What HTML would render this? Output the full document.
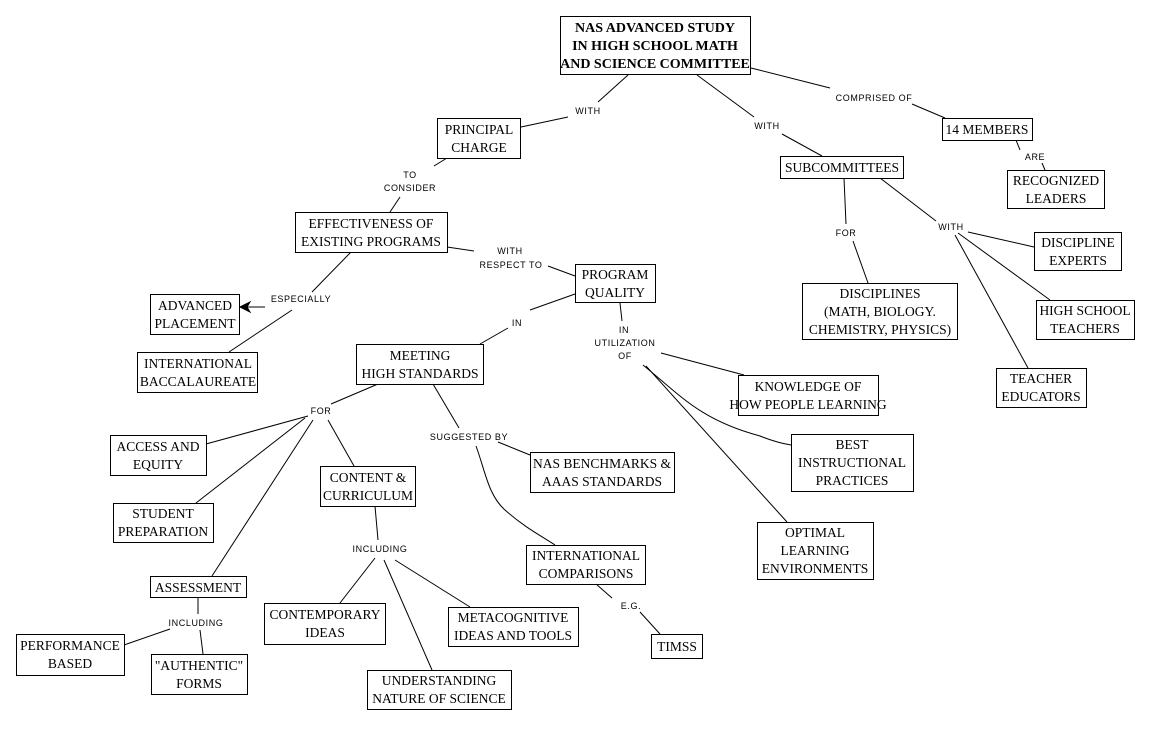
<!DOCTYPE html>
<html><head><meta charset="utf-8"><style>
html,body{margin:0;padding:0;background:#fff;}
svg{display:block}
.b{fill:#fff;stroke:#000;stroke-width:1}
.t{font-family:"Liberation Serif",serif;font-size:13.5px;fill:#000;text-anchor:middle}
.tb{font-family:"Liberation Serif",serif;font-size:14px;font-weight:bold;fill:#000;text-anchor:middle}
.l{font-family:"Liberation Sans",sans-serif;font-size:9px;letter-spacing:0.6px;fill:#000;text-anchor:middle}
line,path{stroke:#000;stroke-width:1;fill:none}
</style></head><body>
<svg width="1154" height="730" viewBox="0 0 1154 730" xmlns="http://www.w3.org/2000/svg">
<!-- connectors -->
<line x1="628" y1="75" x2="598" y2="102"/><line x1="568" y1="117" x2="521" y2="127"/>
<line x1="697" y1="75" x2="754" y2="117"/><line x1="782" y1="134" x2="822" y2="156"/>
<line x1="751" y1="68" x2="830" y2="88"/><line x1="912" y1="104" x2="945" y2="118"/>
<line x1="1016" y1="140" x2="1020" y2="150"/><line x1="1042" y1="163" x2="1045" y2="170"/>
<line x1="447" y1="158" x2="434" y2="166"/><line x1="400" y1="197" x2="390" y2="212"/>
<line x1="447" y1="247" x2="474" y2="251"/><line x1="548" y1="266" x2="575" y2="276"/>
<line x1="351" y1="252" x2="312" y2="292"/><line x1="265" y1="307" x2="243" y2="307"/>
<path d="M240 307 L250 302 L247 307 L250 312 Z" style="fill:#000"/>
<line x1="292" y1="310" x2="229" y2="352"/>
<line x1="844" y1="178" x2="846" y2="224"/><line x1="853" y1="241" x2="868" y2="283"/>
<line x1="880" y1="178" x2="936" y2="221"/><line x1="968" y1="232" x2="1034" y2="247"/>
<line x1="958" y1="233" x2="1050" y2="300"/><line x1="955" y1="235" x2="1028" y2="368"/>
<line x1="575" y1="294" x2="530" y2="310"/><line x1="508" y1="328" x2="480" y2="344"/>
<line x1="620" y1="303" x2="622" y2="321"/>
<line x1="661" y1="353" x2="744" y2="375"/>
<path d="M643 365 C680 395 700 420 760 436 C775 442 785 444 791 445"/>
<line x1="646" y1="366" x2="787" y2="522"/>
<line x1="378" y1="384" x2="331" y2="404"/><line x1="308" y1="416" x2="206" y2="444"/>
<line x1="305" y1="418" x2="196" y2="503"/><line x1="313" y1="420" x2="212" y2="576"/>
<line x1="328" y1="420" x2="354" y2="466"/>
<line x1="433" y1="384" x2="459" y2="428"/><line x1="498" y1="442" x2="530" y2="455"/>
<path d="M476 446 C485 470 488 495 505 510 C525 528 545 538 555 545"/>
<line x1="375" y1="506" x2="378" y2="540"/><line x1="375" y1="558" x2="340" y2="603"/>
<line x1="384" y1="560" x2="432" y2="670"/><line x1="395" y1="560" x2="470" y2="607"/>
<line x1="198" y1="597" x2="198" y2="614"/><line x1="170" y1="629" x2="124" y2="645"/>
<line x1="200" y1="630" x2="203" y2="654"/>
<line x1="596" y1="584" x2="612" y2="598"/><line x1="640" y1="612" x2="660" y2="634"/>
<!-- boxes -->
<rect class="b" x="560.5" y="16.5" width="190" height="58"/>
<text class="tb" x="655" y="32">NAS ADVANCED STUDY</text>
<text class="tb" x="655" y="50">IN HIGH SCHOOL MATH</text>
<text class="tb" x="655" y="68">AND SCIENCE  COMMITTEE</text>
<rect class="b" x="437.5" y="118.5" width="83" height="40"/>
<text class="t" x="479" y="134">PRINCIPAL</text><text class="t" x="479" y="152">CHARGE</text>
<rect class="b" x="942.5" y="118.5" width="90" height="22"/><text class="t" x="987" y="134">14 MEMBERS</text>
<rect class="b" x="1007.5" y="170.5" width="97" height="38"/>
<text class="t" x="1056" y="185">RECOGNIZED</text><text class="t" x="1056" y="203">LEADERS</text>
<rect class="b" x="780.5" y="156.5" width="123" height="22"/><text class="t" x="842" y="172">SUBCOMMITTEES</text>
<rect class="b" x="295.5" y="212.5" width="152" height="40"/>
<text class="t" x="371" y="228">EFFECTIVENESS OF</text><text class="t" x="371" y="246">EXISTING PROGRAMS</text>
<rect class="b" x="575.5" y="264.5" width="80" height="38"/>
<text class="t" x="615" y="279">PROGRAM</text><text class="t" x="615" y="297">QUALITY</text>
<rect class="b" x="1034.5" y="232.5" width="87" height="38"/>
<text class="t" x="1078" y="247">DISCIPLINE</text><text class="t" x="1078" y="265">EXPERTS</text>
<rect class="b" x="802.5" y="283.5" width="155" height="56"/>
<text class="t" x="880" y="298">DISCIPLINES</text><text class="t" x="880" y="316">(MATH, BIOLOGY.</text><text class="t" x="880" y="334">CHEMISTRY, PHYSICS)</text>
<rect class="b" x="1036.5" y="300.5" width="98" height="39"/>
<text class="t" x="1085" y="315">HIGH SCHOOL</text><text class="t" x="1085" y="333">TEACHERS</text>
<rect class="b" x="150.5" y="294.5" width="89" height="40"/>
<text class="t" x="195" y="310">ADVANCED</text><text class="t" x="195" y="328">PLACEMENT</text>
<rect class="b" x="137.5" y="352.5" width="120" height="40"/>
<text class="t" x="198" y="368">INTERNATIONAL</text><text class="t" x="198" y="386">BACCALAUREATE</text>
<rect class="b" x="356.5" y="344.5" width="127" height="40"/>
<text class="t" x="420" y="360">MEETING</text><text class="t" x="420" y="378">HIGH STANDARDS</text>
<rect class="b" x="996.5" y="368.5" width="90" height="39"/>
<text class="t" x="1041" y="383">TEACHER</text><text class="t" x="1041" y="401">EDUCATORS</text>
<rect class="b" x="738.5" y="375.5" width="140" height="40"/>
<text class="t" x="808" y="391">KNOWLEDGE OF</text><text class="t" x="808" y="409">HOW PEOPLE LEARNING</text>
<rect class="b" x="110.5" y="435.5" width="96" height="40"/>
<text class="t" x="158" y="451">ACCESS AND</text><text class="t" x="158" y="469">EQUITY</text>
<rect class="b" x="791.5" y="434.5" width="122" height="57"/>
<text class="t" x="852" y="449">BEST</text><text class="t" x="852" y="467">INSTRUCTIONAL</text><text class="t" x="852" y="485">PRACTICES</text>
<rect class="b" x="530.5" y="452.5" width="144" height="40"/>
<text class="t" x="602" y="468">NAS BENCHMARKS &amp;</text><text class="t" x="602" y="486">AAAS STANDARDS</text>
<rect class="b" x="320.5" y="466.5" width="95" height="40"/>
<text class="t" x="368" y="482">CONTENT &amp;</text><text class="t" x="368" y="500">CURRICULUM</text>
<rect class="b" x="113.5" y="503.5" width="100" height="39"/>
<text class="t" x="163" y="518">STUDENT</text><text class="t" x="163" y="536">PREPARATION</text>
<rect class="b" x="757.5" y="522.5" width="116" height="57"/>
<text class="t" x="815" y="537">OPTIMAL</text><text class="t" x="815" y="555">LEARNING</text><text class="t" x="815" y="573">ENVIRONMENTS</text>
<rect class="b" x="526.5" y="545.5" width="119" height="39"/>
<text class="t" x="586" y="560">INTERNATIONAL</text><text class="t" x="586" y="578">COMPARISONS</text>
<rect class="b" x="150.5" y="576.5" width="96" height="21"/><text class="t" x="198" y="592">ASSESSMENT</text>
<rect class="b" x="264.5" y="603.5" width="121" height="41"/>
<text class="t" x="325" y="619">CONTEMPORARY</text><text class="t" x="325" y="637">IDEAS</text>
<rect class="b" x="448.5" y="607.5" width="130" height="39"/>
<text class="t" x="513" y="622">METACOGNITIVE</text><text class="t" x="513" y="640">IDEAS AND TOOLS</text>
<rect class="b" x="16.5" y="634.5" width="108" height="41"/>
<text class="t" x="70" y="650">PERFORMANCE</text><text class="t" x="70" y="668">BASED</text>
<rect class="b" x="151.5" y="654.5" width="96" height="40"/>
<text class="t" x="199" y="670">"AUTHENTIC"</text><text class="t" x="199" y="688">FORMS</text>
<rect class="b" x="651.5" y="634.5" width="51" height="24"/><text class="t" x="677" y="651">TIMSS</text>
<rect class="b" x="367.5" y="670.5" width="144" height="39"/>
<text class="t" x="439" y="685">UNDERSTANDING</text><text class="t" x="439" y="703">NATURE OF SCIENCE</text>
<!-- labels -->
<text class="l" x="588" y="114">WITH</text>
<text class="l" x="874" y="101">COMPRISED OF</text>
<text class="l" x="767" y="129">WITH</text>
<text class="l" x="1035" y="160">ARE</text>
<text class="l" x="410" y="178">TO</text><text class="l" x="410" y="191">CONSIDER</text>
<text class="l" x="510" y="254">WITH</text><text class="l" x="511" y="268">RESPECT TO</text>
<text class="l" x="846" y="236">FOR</text>
<text class="l" x="951" y="230">WITH</text>
<text class="l" x="301" y="302">ESPECIALLY</text>
<text class="l" x="517" y="326">IN</text>
<text class="l" x="624" y="333">IN</text><text class="l" x="625" y="346">UTILIZATION</text><text class="l" x="625" y="359">OF</text>
<text class="l" x="321" y="414">FOR</text>
<text class="l" x="469" y="440">SUGGESTED BY</text>
<text class="l" x="380" y="552">INCLUDING</text>
<text class="l" x="196" y="626">INCLUDING</text>
<text class="l" x="631" y="609">E.G.</text>
</svg>
</body></html>
